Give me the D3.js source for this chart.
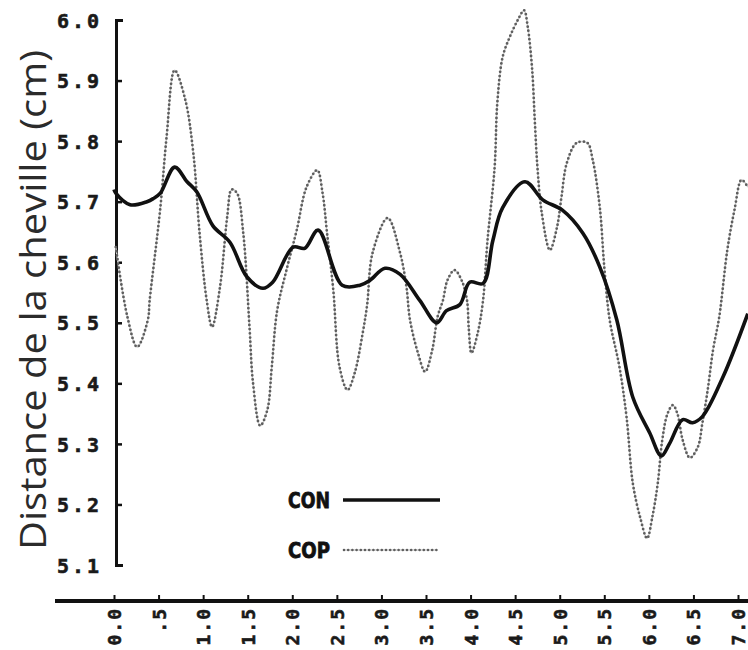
<!DOCTYPE html>
<html>
<head>
<meta charset="utf-8">
<script src="https://cdn.jsdelivr.net/npm/d3@7"></script>
<style>
  html, body { margin: 0; padding: 0; background: #fff; }
  svg { display: block; }
</style>
</head>
<body>
<svg id="chart" width="748" height="650"></svg>
<script>
// ---- data (time in s, distance in cm) ----
const conT = [0.0, 0.02, 0.18, 0.37, 0.44, 0.52, 0.68, 0.82, 0.93, 1.11, 1.30, 1.49, 1.67, 1.78, 2.01, 2.14, 2.29, 2.56, 2.76, 2.87, 3.04, 3.21, 3.43, 3.62, 3.73, 3.88, 3.99, 4.14, 4.25, 4.36, 4.61, 4.81, 5.03, 5.26, 5.45, 5.64, 5.82, 6.01, 6.14, 6.23, 6.38, 6.49, 6.60, 6.83, 7.11];
const conV = [5.72, 5.714, 5.695, 5.700, 5.705, 5.714, 5.757, 5.733, 5.716, 5.660, 5.633, 5.576, 5.557, 5.567, 5.625, 5.623, 5.653, 5.562, 5.562, 5.570, 5.590, 5.580, 5.537, 5.500, 5.520, 5.530, 5.567, 5.565, 5.636, 5.690, 5.733, 5.703, 5.686, 5.648, 5.592, 5.505, 5.377, 5.318, 5.280, 5.300, 5.340, 5.335, 5.345, 5.410, 5.515];

const copT = [0.02, 0.15, 0.26, 0.38, 0.40, 0.52, 0.59, 0.68, 0.80, 0.89, 0.96, 1.04, 1.10, 1.19, 1.27, 1.32, 1.38, 1.45, 1.52, 1.56, 1.64, 1.72, 1.77, 1.83, 1.94, 2.05, 2.16, 2.28, 2.34, 2.39, 2.46, 2.53, 2.62, 2.70, 2.79, 2.84, 2.90, 3.07, 3.21, 3.28, 3.32, 3.41, 3.49, 3.57, 3.63, 3.69, 3.74, 3.82, 3.90, 3.96, 3.98, 4.01, 4.08, 4.14, 4.19, 4.27, 4.30, 4.36, 4.44, 4.53, 4.60, 4.64, 4.69, 4.72, 4.75, 4.80, 4.89, 4.97, 5.02, 5.08, 5.19, 5.31, 5.37, 5.45, 5.50, 5.56, 5.67, 5.75, 5.82, 5.90, 5.98, 6.04, 6.10, 6.15, 6.21, 6.27, 6.32, 6.38, 6.46, 6.55, 6.60, 6.66, 6.72, 6.79, 6.88, 6.96, 7.04, 7.11];
const copV = [5.625, 5.51, 5.46, 5.505, 5.537, 5.69, 5.807, 5.917, 5.868, 5.78, 5.648, 5.537, 5.493, 5.56, 5.675, 5.72, 5.714, 5.648, 5.493, 5.40, 5.33, 5.356, 5.427, 5.52, 5.59, 5.653, 5.724, 5.752, 5.714, 5.648, 5.554, 5.427, 5.389, 5.417, 5.483, 5.53, 5.615, 5.673, 5.615, 5.56, 5.505, 5.45, 5.419, 5.455, 5.51, 5.537, 5.570, 5.587, 5.57, 5.537, 5.49, 5.45, 5.483, 5.537, 5.636, 5.757, 5.863, 5.939, 5.972, 6.0, 6.016, 5.99, 5.92, 5.835, 5.757, 5.68, 5.62, 5.658, 5.708, 5.764, 5.797, 5.797, 5.769, 5.69, 5.592, 5.505, 5.427, 5.344, 5.235, 5.18, 5.144, 5.18, 5.235, 5.306, 5.35, 5.364, 5.35, 5.306, 5.277, 5.295, 5.334, 5.389, 5.455, 5.51, 5.62, 5.686, 5.736, 5.724];

const yTicks = [5.1, 5.2, 5.3, 5.4, 5.5, 5.6, 5.7, 5.8, 5.9, 6.0];
const yTickLabels = ["5.1", "5.2", "5.3", "5.4", "5.5", "5.6", "5.7", "5.8", "5.9", "6.0"];
const xTicks = [0, 0.5, 1, 1.5, 2, 2.5, 3, 3.5, 4, 4.5, 5, 5.5, 6, 6.5, 7];
const xTickLabels = ["0.0", ".5", "1.0", "1.5", "2.0", "2.5", "3.0", "3.5", "4.0", "4.5", "5.0", "5.5", "6.0", "6.5", "7.0"];
const seriesNames = ["CON", "COP"];
const yTitle = "Distance de la cheville (cm)";

// ---- drawing ----
const svg = d3.select("#chart");
const x = d3.scaleLinear().domain([0, 7]).range([114, 738]);
const y = d3.scaleLinear().domain([5.1, 6.0]).range([565, 20]);

const tickFont = "'DejaVu Sans Mono', monospace";

// Y axis
const yAxis = d3.axisLeft(y)
  .tickValues(yTicks)
  .tickFormat((d, i) => yTickLabels[i])
  .tickSizeInner(-6)
  .tickSizeOuter(-7)
  .tickPadding(14);
const gy = svg.append("g").attr("transform", "translate(116,0)").call(yAxis);
gy.select(".domain").attr("stroke", "#111").attr("stroke-width", 3).attr("fill", "none");
gy.selectAll(".tick line").attr("stroke", "#111").attr("stroke-width", 2.5);
gy.selectAll(".tick text")
  .attr("font-family", tickFont)
  .attr("font-weight", "bold")
  .attr("font-size", 20)
  .attr("letter-spacing", 3)
  .attr("fill", "#1a1a1a")
  .attr("stroke", "#1a1a1a")
  .attr("stroke-width", 0.6)
  .attr("dy", "0.36em");

// X axis
const xAxis = d3.axisBottom(x)
  .tickValues(xTicks)
  .tickFormat((d, i) => xTickLabels[i])
  .tickSizeInner(-6)
  .tickSizeOuter(0);
const gx = svg.append("g").attr("transform", "translate(0,601)").call(xAxis);
gx.select(".domain").remove();
gx.append("line")
  .attr("x1", 55).attr("x2", 748).attr("y1", 0).attr("y2", 0)
  .attr("stroke", "#111").attr("stroke-width", 4);
gx.selectAll(".tick line").attr("stroke", "#111").attr("stroke-width", 2);
gx.selectAll(".tick text")
  .attr("font-family", tickFont)
  .attr("font-weight", "bold")
  .attr("font-size", 18)
  .attr("letter-spacing", 2)
  .attr("fill", "#1a1a1a")
  .attr("stroke", "#1a1a1a")
  .attr("stroke-width", 0.6)
  .attr("text-anchor", "end")
  .attr("transform", "rotate(-90)")
  .attr("x", -6)
  .attr("y", 0)
  .attr("dy", "0.36em");

// Y title
svg.append("text")
  .attr("transform", "translate(46,300) rotate(-90)")
  .attr("text-anchor", "middle")
  .attr("font-family", "'Open Sans', sans-serif")
  .attr("font-size", 37)
  .attr("textLength", 500)
  .attr("lengthAdjust", "spacingAndGlyphs")
  .attr("fill", "#2b2b2b")
  .text(yTitle);

// lines
const conData = conT.map((t, i) => ({ t, v: conV[i] }));
const copData = copT.map((t, i) => ({ t, v: copV[i] }));
const line = d3.line().x(d => x(d.t)).y(d => y(d.v)).curve(d3.curveCatmullRom.alpha(0.5));

svg.append("path").datum(copData)
  .attr("d", line).attr("fill", "none")
  .attr("stroke", "#cfcfcf").attr("stroke-width", 1.5);
svg.append("path").datum(copData)
  .attr("d", line).attr("fill", "none")
  .attr("stroke", "#5e5e5e").attr("stroke-width", 2.8)
  .attr("stroke-linecap", "round")
  .attr("stroke-dasharray", "0,4.2");

svg.append("path").datum(conData)
  .attr("d", line).attr("fill", "none")
  .attr("stroke", "#111").attr("stroke-width", 3.6)
  .attr("stroke-linejoin", "round");

// legend
const legend = svg.append("g");
const legY = [500, 550];
seriesNames.forEach((name, i) => {
  legend.append("text")
    .attr("x", 288).attr("y", legY[i]).attr("dy", "0.36em")
    .attr("font-family", "'DejaVu Sans', sans-serif")
    .attr("font-weight", "bold")
    .attr("font-size", 21)
    .attr("textLength", 42)
    .attr("lengthAdjust", "spacingAndGlyphs")
    .attr("fill", "#111")
    .attr("stroke", "#111")
    .attr("stroke-width", 0.8)
    .text(name);
});
legend.append("line")
  .attr("x1", 343).attr("x2", 440).attr("y1", legY[0]).attr("y2", legY[0])
  .attr("stroke", "#111").attr("stroke-width", 3.6);
legend.append("line")
  .attr("x1", 344).attr("x2", 437).attr("y1", legY[1]).attr("y2", legY[1])
  .attr("stroke", "#cfcfcf").attr("stroke-width", 1.5);
legend.append("line")
  .attr("x1", 344).attr("x2", 437).attr("y1", legY[1]).attr("y2", legY[1])
  .attr("stroke", "#5e5e5e").attr("stroke-width", 2.6)
  .attr("stroke-linecap", "round")
  .attr("stroke-dasharray", "0,4.2");
</script>
</body>
</html>
